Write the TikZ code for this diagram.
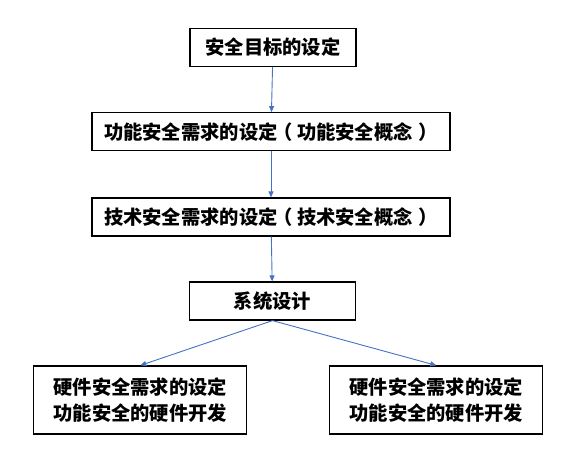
\documentclass[tikz,border=0pt]{standalone}
\usepackage{fontspec}
\usepackage{tikz}
\usetikzlibrary{arrows.meta, positioning}
\newfontfamily\cjk{Noto Sans CJK SC}
\definecolor{arrowblue}{RGB}{68, 114, 196}

\tikzset{
  stage/.style={draw=black, line width=1.2pt, inner sep=0pt, minimum height=38pt,
    font=\cjk\bfseries\fontsize{19.3}{25.6}\selectfont, align=center},
  flow/.style={-{Triangle[length=6pt, width=5pt]}, arrowblue, line width=0.9pt}
}
\newcommand{\paren}[1]{\hspace{-0.2em}（\hspace{0.2em}#1\hspace{0.3em}）}

\begin{document}
\begin{tikzpicture}[x=1pt, y=-1pt]
  \useasboundingbox (0,0) rectangle (583,455);
  % main chain
  \node[stage, minimum width=166pt] (goal) at (273,47.5) {安全目标的设定};
  \node[stage, minimum width=358pt] (fsc) at (271,131.7) {功能安全需求的设定\paren{功能安全概念}};
  \node[stage, minimum width=358pt] (tsc) at (271,217) {技术安全需求的设定\paren{技术安全概念}};
  \node[stage, minimum width=166pt] (sys) at (272.5,301) {系统设计};
  % hardware branches
  \node[stage, minimum width=213pt, minimum height=68pt] (hwl) at (140.3,400) {硬件安全需求的设定\\功能安全的硬件开发};
  \node[stage, minimum width=213pt, minimum height=68pt] (hwr) at (436.3,400) {硬件安全需求的设定\\功能安全的硬件开发};

  \draw[flow] (goal) -- (fsc);
  \draw[flow] (fsc) -- (tsc);
  \draw[flow] (tsc) -- (sys);
  \draw[flow] (sys.south) -- (hwl.north);
  \draw[flow] (sys.south) -- (hwr.north);
\end{tikzpicture}
\end{document}
